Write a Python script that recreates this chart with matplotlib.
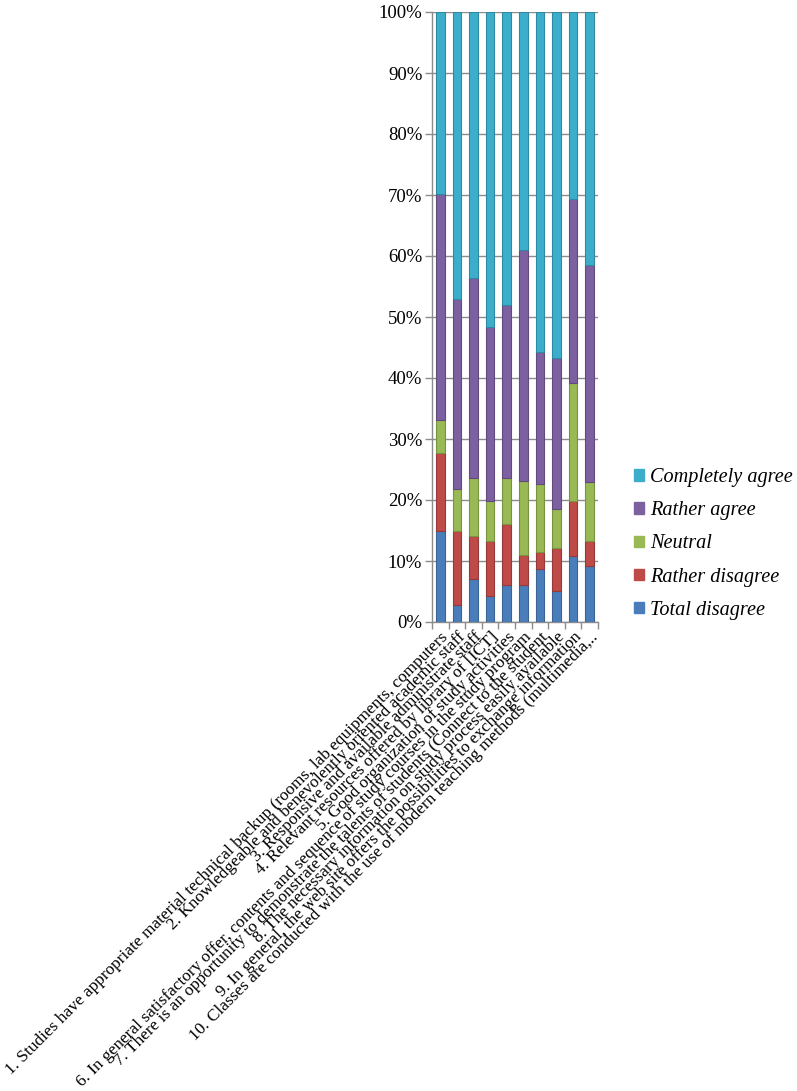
import matplotlib
matplotlib.use("Agg")
import matplotlib.pyplot as plt
from matplotlib.patches import Patch
from matplotlib.ticker import FuncFormatter, FixedLocator
import numpy as np

plt.rcParams["font.family"] = ["Liberation Serif", "DejaVu Serif"]

categories = [
    "1. Studies have appropriate material technical backup (rooms, lab equipments, computers",
    "2. Knowledgeable and benevolently oriented academic staff",
    "3. Responsive and available administrate staff",
    "4. Relevant resources offered by library of [ICT]",
    "5. Good organization of study activities",
    "6. In general satisfactory offer, contents and sequence of study courses in the study program",
    "7. There is an opportunity to demonstrate the talents of students (Connect to the student",
    "8. The necessary information on study process easily available",
    "9. In general, the web site offers the possibilities to exchange information",
    "10. Classes are conducted with the use of modern teaching methods (multimedia,..",
]

# Share of answers per statement (percent)
total_disagree  = [15.0,  2.8,  7.0,  4.2,  6.0,  6.0,  8.7,  5.1, 10.9,  9.1]
rather_disagree = [12.7, 12.2,  7.1,  9.0, 10.0,  5.0,  2.8,  7.1,  9.0,  4.1]
neutral         = [ 5.4,  6.8,  9.5,  6.7,  7.6, 12.1, 11.1,  6.3, 19.3,  9.8]
rather_agree    = [37.1, 31.1, 32.8, 28.4, 28.4, 37.9, 21.6, 24.8, 30.1, 35.6]
completely_agree = [29.8, 47.1, 43.6, 51.7, 48.0, 39.0, 55.8, 56.7, 30.7, 41.4]

series = [
    ("Total disagree", total_disagree, "#4a7ebb", "#3a6496"),
    ("Rather disagree", rather_disagree, "#be4b48", "#953a38"),
    ("Neutral", neutral, "#98b954", "#789342"),
    ("Rather agree", rather_agree, "#7d60a0", "#614a7d"),
    ("Completely agree", completely_agree, "#3caecc", "#2d8aa2"),
]

fig = plt.figure(figsize=(7.97, 10.91), dpi=100)
ax = fig.add_axes([432 / 797, 1 - 622 / 1091, (598 - 432) / 797, (622 - 12) / 1091])

x = np.arange(len(categories))
bottom = np.zeros(len(categories))
for name, vals, color, edge in series:
    vals = np.asarray(vals, dtype=float)
    ax.bar(x, vals, bottom=bottom, width=0.52, color=color, edgecolor=edge,
           linewidth=0.8, zorder=3)
    bottom += vals

ax.set_xlim(-0.5, len(categories) - 0.5)
ax.set_ylim(0, 100)
ax.set_yticks(np.arange(0, 101, 10))
ax.yaxis.set_major_formatter(FuncFormatter(lambda v, p: f"{int(v)}%"))
ax.yaxis.grid(True, color="#8c8c8c", linewidth=1.0, zorder=0)
ax.set_axisbelow(True)

ax.set_xticks(x)
ax.set_xticklabels(categories, rotation=45, ha="right", rotation_mode="anchor",
                   fontsize=12.4)
ax.tick_params(axis="x", length=0, pad=5)
ax.xaxis.set_minor_locator(FixedLocator(np.arange(-0.5, len(categories), 1.0)))
ax.tick_params(axis="x", which="minor", length=5, color="#8c8c8c", width=1)
ax.tick_params(axis="y", length=5, color="#8c8c8c", width=1, labelsize=13.5, pad=2)

for s in ("top", "right"):
    ax.spines[s].set_visible(False)
for s in ("left", "bottom"):
    ax.spines[s].set_color("#8c8c8c")
    ax.spines[s].set_linewidth(1.0)

handles = [Patch(facecolor=c, edgecolor=c, label=n) for n, _, c, _ in reversed(series)]
fig.legend(handles=handles, loc="center left", bbox_to_anchor=(634 / 797, 1 - 544 / 1091),
           frameon=False, prop={"style": "italic", "size": 14.6},
           handlelength=0.5, handleheight=0.5, handletextpad=0.3, labelspacing=0.7,
           borderaxespad=0, borderpad=0)

fig.savefig("out.png", dpi=100)
